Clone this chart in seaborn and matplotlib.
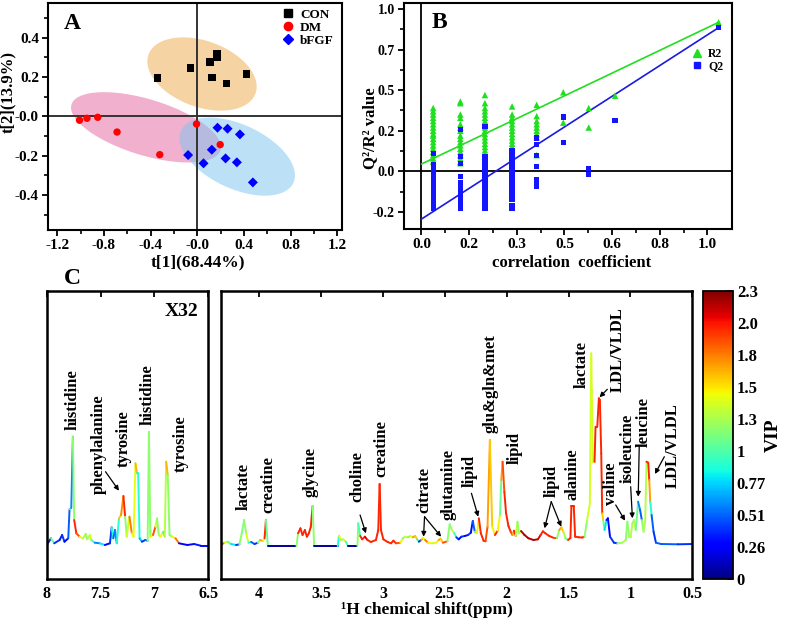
import numpy as np
import pandas as pd
import matplotlib
matplotlib.use("Agg")
import matplotlib.pyplot as plt
import seaborn as sns
from matplotlib.collections import LineCollection
from matplotlib.colors import Normalize
from matplotlib.lines import Line2D
from matplotlib.cm import ScalarMappable

# ---------------- Panel A : PLS-DA scores ----------------
con_t1 = [-0.34, -0.06, 0.11, 0.17, 0.17, 0.127, 0.25, 0.42]
con_t2 = [0.196, 0.247, 0.276, 0.32, 0.30, 0.198, 0.166, 0.215]
dm_t1 = [-1.01, -0.946, -0.854, -0.688, -0.322, -0.007, 0.196]
dm_t2 = [-0.02, -0.01, -0.005, -0.08, -0.195, -0.039, -0.144]
bfgf_t1 = [0.173, 0.259, 0.365, -0.079, 0.124, 0.053, 0.242, 0.339, 0.476]
bfgf_t2 = [-0.058, -0.063, -0.092, -0.197, -0.17, -0.239, -0.214, -0.234, -0.336]
groups = ["CON", "DM", "bFGF"]
ell_cx = [0.04, -0.44, 0.342]
ell_cy = [0.215, -0.056, -0.205]
ell_a = [0.488, 0.668, 0.531]
ell_b = [0.283, 0.24, 0.274]
ell_angle = [-20, -17, -25]

# ---------------- Panel B : permutation test ----------------
r2_x = ([0.041] * 18 + [0.136] * 17 + [0.222] * 18 + [0.317] * 15 + [0.403] * 9
        + [0.496] * 2 + [0.585] * 2 + [0.677] + [1.039])
r2_y = ([0.39, 0.37, 0.35, 0.33, 0.31, 0.29, 0.27, 0.25, 0.23, 0.22, 0.20, 0.18, 0.16, 0.14, 0.12, 0.10, 0.08, 0.06]
        + [0.43, 0.42, 0.35, 0.33, 0.29, 0.27, 0.25, 0.22, 0.20, 0.18, 0.16, 0.14, 0.12, 0.10, 0.08, 0.06, 0.05]
        + [0.47, 0.42, 0.39, 0.37, 0.35, 0.33, 0.31, 0.29, 0.27, 0.25, 0.23, 0.21, 0.19, 0.17, 0.15, 0.13, 0.11, 0.09]
        + [0.40, 0.35, 0.33, 0.31, 0.29, 0.27, 0.25, 0.23, 0.21, 0.19, 0.17, 0.15, 0.13, 0.11, 0.09]
        + [0.41, 0.34, 0.31, 0.29, 0.27, 0.25, 0.23, 0.21, 0.10]
        + [0.487, 0.30] + [0.39, 0.27] + [0.466] + [0.918])
q2_x = ([0.041] * 15 + [0.136] * 13 + [0.222] * 18 + [0.317] * 18 + [0.403] * 7
        + [0.496] * 2 + [0.585] * 2 + [0.677] + [1.039])
q2_y = ([0.109, 0.04, 0.02, 0.0, -0.02, -0.04, -0.06, -0.08, -0.10, -0.12, -0.14, -0.16, -0.18, -0.20, -0.226]
        + [0.257, 0.092, 0.05, -0.03, -0.07, -0.09, -0.11, -0.13, -0.15, -0.17, -0.19, -0.21, -0.226]
        + [0.277, 0.09, 0.07, 0.05, 0.03, 0.01, -0.01, -0.03, -0.05, -0.07, -0.09, -0.11, -0.13, -0.15, -0.17, -0.19, -0.21, -0.226]
        + [0.13, 0.11, 0.09, 0.07, 0.05, 0.03, 0.01, -0.01, -0.03, -0.05, -0.07, -0.09, -0.11, -0.13, -0.15, -0.17, -0.21, -0.226]
        + [0.205, 0.164, 0.097, 0.03, -0.05, -0.07, -0.09]
        + [0.335, 0.18] + [0.016, -0.02] + [0.312] + [0.887])
fit_x = [0.0, 1.039]
r2_fit_y = [0.045, 0.918]
q2_fit_y = [-0.294, 0.885]
b_xticks = [0.0, 0.1667, 0.3333, 0.5, 0.6667, 0.8333, 1.0]
b_xticklabels = ["0.0", "0.2", "0.3", "0.5", "0.6", "0.8", "1.0"]
b_yticks = [-0.25, 0.0, 0.25, 0.5, 0.75, 1.0]
b_yticklabels = ["-0.2", "0.0", "0.2", "0.5", "0.7", "1.0"]

# ---------------- Panel C : VIP-coloured loadings spectrum ----------------
left_ppm = [8.0, 7.96, 7.93, 7.88, 7.857, 7.835, 7.80, 7.788, 7.772, 7.757, 7.745, 7.725, 7.694, 7.663,
            7.638, 7.625, 7.60, 7.585, 7.554, 7.507, 7.46, 7.413, 7.397, 7.382, 7.366, 7.35, 7.329, 7.31,
            7.288, 7.272, 7.257, 7.232, 7.21, 7.194, 7.176, 7.163, 7.151, 7.138, 7.116, 7.085, 7.063,
            7.051, 7.038, 7.013, 6.991, 6.976, 6.96, 6.944, 6.919, 6.904, 6.891, 6.876, 6.86, 6.835,
            6.804, 6.772, 6.694, 6.632, 6.57, 6.5]
left_int = [0, 6.7, 1.7, 5, 10, 3.3, 6.7, 35.7, 37, 108.3, 25, 11.7, 8.3, 6.7,
            11, 5.7, 10, 5, 2.3, 1.7, 0, 1.7, 17.7, 6.7, 15, 1.7, 26.7, 30,
            49, 28.3, 8.3, 28.3, 11.7, 8.3, 81.7, 71.7, 71.7, 6.7, 3.3, 5, 4.3,
            113.3, 8.3, 10, 18.3, 26.7, 10, 8.3, 13.3, 8.3, 83.3, 70, 10, 8.3,
            6.7, 1.7, 0, 1, -0.7, -0.7]
left_vip = [0.35, 1.1, 0.4, 0.35, 0.4, 0.3, 0.5, 1.0, 0.6, 1.2, 2.0, 1.9, 1.5, 1.3,
            1.2, 1.3, 1.4, 1.0, 0.6, 0.8, 0.3, 0.4, 0.9, 0.5, 0.6, 0.9, 1.6, 1.75,
            2.0, 1.2, 1.4, 1.8, 1.5, 1.45, 1.65, 0.9, 0.9, 0.7, 0.4, 0.5, 1.2,
            1.2, 1.5, 1.9, 1.4, 1.2, 1.3, 1.5, 0.9, 1.3, 1.65, 1.2, 1.2, 1.5,
            1.8, 0.3, 0.3, 0.35, 0.3, 0.5]

right_ppm = [4.309, 4.282, 4.255, 4.228, 4.187, 4.16, 4.141, 4.122, 4.106, 4.087, 4.065, 4.038, 4.011,
             3.992, 3.97, 3.957, 3.946, 3.93, 3.699, 3.686, 3.667, 3.650, 3.631, 3.615, 3.599, 3.583,
             3.569, 3.556, 3.366, 3.355, 3.339, 3.32, 3.301, 3.282, 3.206, 3.2, 3.184, 3.168, 3.146,
             3.125, 3.098, 3.057, 3.038, 3.027, 3.016, 2.997, 2.962, 2.935, 2.916, 2.894, 2.859, 2.84,
             2.821, 2.8, 2.778, 2.759, 2.74, 2.724, 2.71, 2.691, 2.675, 2.659, 2.637, 2.604, 2.569,
             2.55, 2.534, 2.515, 2.48, 2.461, 2.442, 2.426, 2.407, 2.388, 2.366, 2.339, 2.312, 2.29,
             2.274, 2.258, 2.241, 2.225, 2.209, 2.187, 2.171, 2.155, 2.136, 2.117, 2.095, 2.073, 2.054,
             2.044, 2.033, 2.019, 2.005, 1.986, 1.968, 1.954, 1.941, 1.927, 1.913, 1.902, 1.884, 1.856,
             1.824, 1.783, 1.748, 1.726, 1.707, 1.688, 1.656, 1.618, 1.594, 1.575, 1.558, 1.542, 1.526,
             1.504, 1.485, 1.477, 1.458, 1.447, 1.417, 1.39, 1.371, 1.35, 1.328, 1.317, 1.303, 1.29,
             1.282, 1.268, 1.255, 1.247, 1.236, 1.228, 1.22, 1.209, 1.193, 1.182, 1.165, 1.133, 1.106,
             1.065, 1.038, 1.025, 1.011, 0.998, 0.984, 0.97, 0.957, 0.938, 0.922, 0.908, 0.894, 0.881,
             0.87, 0.856, 0.848, 0.84, 0.829, 0.813, 0.794, 0.753, 0.618, 0.5]
right_int = [0, 2.3, 3.3, 1, 0, 0.7, 11.7, 25, 11.7, 2.3, 3, 1, 2.3,
             5, 4, 6.7, 25, -1, -1, 11.7, 16.7, 10, 15, 8.3, 11.7, 18.3,
             39, -1, -1, 9.3, 5, 5.7, 3.3, -1, -1, 21.7, 9, 5.7, 8.3,
             5, 3, 5, 15, 61, 15, 5.7, 3, 1.7, 4.3, 1.7, 2.3, 6.7,
             8.3, 7.7, 9, 7.7, 9, 5.7, 3.3, 5, 6.7, 5, 2.3, 1.7, 2.3,
             5, 6.3, 2.3, 3.7, 20.7, 15, 12.3, 7.7, 5.7, 8.3, 9, 10, 12.3,
             24, 13.3, 11.7, 26.7, 11.7, 4.3, 3.7, 18.3, 105, 18.3, 10, 14.3, 30,
             65, 83.3, 53, 31.7, 19, 13.3, 10, 14.3, 9, 23.3, 11.7, 14, 10,
             6.7, 5, 5.7, 10, 13.7, 11.7, 9, 7, 7, 15, 17.7, 13.3, 7,
             5, 7, 39, 39, 8.3, 7.7, 7.5, 8.3, 25, 41.7, 191.7, 83.3, 83.3,
             118.3, 118.3, 146.7, 145, 91.7, 31.7, 25, 15, 25, 26.7, 8.3, 2.3, 1.7,
             2.3, 5, 23.3, 8.3, 8.3, 21.7, 25, 15, 43.3, 35, 25, 13.3, 23.3,
             83.3, 82.3, 65, 43.3, 30, 13.3, 2.3, 1, 0.7, 1]
right_vip = [1.9, 1.4, 1.1, 0.8, 0.4, 1.2, 1.15, 1.2, 1.4, 0.9, 0.5, 0.4, 1.2,
             1.7, 1.5, 2.0, 1.1, 0.05, 1.2, 2.0, 2.0, 2.0, 2.0, 2.0, 2.0, 2.0,
             1.2, 0.05, 0.9, 1.5, 1.2, 1.4, 1.0, 0.05, 1.2, 1.0, 2.0, 2.0, 2.1,
             2.0, 2.0, 2.0, 2.0, 2.0, 2.0, 2.0, 2.0, 2.0, 2.0, 1.9, 1.5, 1.2,
             1.4, 1.15, 1.45, 1.7, 1.6, 0.9, 0.4, 1.7, 1.5, 1.8, 1.5, 1.4, 1.5,
             1.7, 1.6, 1.9, 1.2, 1.2, 1.4, 1.0, 0.4, 0.3, 0.4, 0.3, 0.4, 0.3,
             0.5, 1.2, 1.5, 2.0, 2.0, 2.0, 1.9, 1.7, 1.6, 1.5, 2.0, 1.5, 1.1,
             1.7, 1.9, 2.0, 2.0, 2.0, 1.9, 1.7, 2.0, 1.3, 1.2, 1.3, 2.2, 2.2,
             2.2, 2.2, 2.1, 2.0, 2.0, 2.0, 2.0, 1.9, 1.2, 1.7, 1.6, 1.3, 1.1,
             2.0, 2.0, 2.0, 2.0, 2.0, 2.0, 2.0, 1.2, 1.4, 1.4, 1.4, 1.4, 2.0,
             2.0, 2.0, 2.0, 2.0, 2.0, 1.6, 1.1, 0.8, 0.3, 0.3, 0.4, 0.4, 1.2,
             1.3, 1.2, 1.2, 1.3, 1.3, 1.2, 1.3, 1.1, 0.6, 0.5, 1.2, 1.3, 1.3,
             2.0, 2.0, 1.7, 0.9, 0.5, 0.4, 0.5, 0.5, 0.4, 0.5]

left_labels = ["histidine", "phenylalanine", "tyrosine", "histidine", "tyrosine"]
left_label_ppm = [7.756, 7.516, 7.282, 7.063, 6.76]
left_label_base = [115, 51, 78, 120, 73]
right_labels = ["lactate", "creatine", "glycine", "choline", "creatine", "citrate", "glutamine", "lipid",
                "glu&gln&met", "lipid", "lipid", "alanine", "lactate", "LDL/VLDL", "valine",
                "isoleucine", "leucine", "LDL/VLDL"]
right_label_ppm = [4.128, 3.93, 3.585, 3.206, 3.016, 2.664, 2.469, 2.298,
                   2.128, 1.933, 1.64, 1.471, 1.396, 1.106, 1.16, 1.019, 0.889, 0.659]
right_label_base = [35, 32, 48, 43, 68, 32, 25, 58, 112, 81, 48, 45, 157, 153, 40, 62, 98, 57]
left_arrows = [((7.454, 73.3), (7.329, 54.3))]
right_arrows = [((3.185, 30), (3.138, 11.7)), ((2.664, 28.3), (2.672, 8.3)), ((2.664, 28.3), (2.53, 8.3)),
                ((2.285, 51.7), (2.23, 28.3)), ((1.64, 43.3), (1.694, 16.7)), ((1.64, 43.3), (1.559, 18.3)),
                ((1.187, 155.7), (1.25, 147.7)), ((1.119, 40), (1.043, 24.3)), ((0.998, 58.3), (0.984, 26.7)),
                ((0.929, 98.3), (0.937, 48.3)), ((0.726, 88.3), (0.802, 71))]
vip_ticks = [0, 0.2556, 0.5111, 0.7667, 1.0222, 1.2778, 1.5333, 1.7889, 2.0444, 2.3]
vip_ticklabels = ["0", "0.26", "0.51", "0.77", "1", "1.3", "1.5", "1.8", "2.0", "2.3"]

# ---------------- style ----------------
sns.set_style("ticks")
plt.rcParams["font.family"] = ["Liberation Serif", "DejaVu Serif"]
plt.rcParams["font.weight"] = "bold"
plt.rcParams["axes.labelweight"] = "bold"
plt.rcParams["axes.edgecolor"] = "black"
plt.rcParams["axes.linewidth"] = 1.5
plt.rcParams["xtick.color"] = "black"
plt.rcParams["ytick.color"] = "black"
plt.rcParams["text.color"] = "black"
plt.rcParams["axes.labelcolor"] = "black"

W, H = 787, 626
fig = plt.figure(figsize=(W / 100, H / 100), dpi=100)
fig.patch.set_facecolor("white")


def ax_px(l, t, r, b):
    return fig.add_axes([l / W, 1 - b / H, (r - l) / W, (b - t) / H])


axA = ax_px(48, 3, 342, 230)
axB = ax_px(404, 3, 732, 229)
axL = ax_px(46.7, 290.7, 208.3, 579)
axR = ax_px(221, 290.7, 692.3, 579)
cax = ax_px(702.7, 290.7, 732.7, 579.3)

# ---------------- Panel A ----------------
xlA, ylA = (-1.28, 1.24), (-0.578, 0.576)
axA.set_xlim(*xlA)
axA.set_ylim(*ylA)
bb = axA.get_position()
ratio = (bb.height * H / (ylA[1] - ylA[0])) / (bb.width * W / (xlA[1] - xlA[0]))
ell_colors = ["#eea848", "#e4629e", "#7ac4ee"]
tt = np.linspace(0, 2 * np.pi, 240)
for cx, cy, a, b, ang, col in zip(ell_cx, ell_cy, ell_a, ell_b, ell_angle, ell_colors):
    th = np.deg2rad(ang)
    X = a * np.cos(tt) * np.cos(th) - b * np.sin(tt) * np.sin(th)
    Y = a * np.cos(tt) * np.sin(th) + b * np.sin(tt) * np.cos(th)
    axA.fill(cx + X, cy + Y / ratio, color=col, alpha=0.5, lw=0, zorder=0.5)
axA.axhline(0, color="#333333", lw=1.4, zorder=1)
axA.axvline(0, color="#333333", lw=1.4, zorder=1)
dfA = pd.DataFrame({"t1": con_t1 + dm_t1 + bfgf_t1, "t2": con_t2 + dm_t2 + bfgf_t2,
                    "group": ["CON"] * len(con_t1) + ["DM"] * len(dm_t1) + ["bFGF"] * len(bfgf_t1)})
mk = {"CON": "s", "DM": "o", "bFGF": "D"}
pal = {"CON": "black", "DM": "#ff0000", "bFGF": "#0000ff"}
sz = {"CON": 30, "DM": 28, "bFGF": 26}
for g in groups:
    sub = dfA[dfA.group == g]
    sns.scatterplot(data=sub, x="t1", y="t2", marker=mk[g], color=pal[g], s=sz[g],
                    edgecolor="none", ax=axA, zorder=3, legend=False)
handles = [Line2D([], [], marker=mk[g], color=pal[g], ls="none", markersize=6 if g != "bFGF" else 5.5)
           for g in groups]
axA.legend(handles, groups, loc="upper left", bbox_to_anchor=(0.795, 0.975), frameon=False,
           fontsize=9.5, handlelength=1.0, handletextpad=0.4, labelspacing=0.05, borderpad=0,
           borderaxespad=0)
axA.set_xticks([-1.2, -0.8, -0.4, 0, 0.4, 0.8, 1.2])
axA.set_xticklabels(["-1.2", "-0.8", "-0.4", "-0.0", "0.4", "0.8", "1.2"])
axA.set_xticks([-1.0, -0.6, -0.2, 0.2, 0.6, 1.0], minor=True)
axA.set_yticks([-0.4, -0.2, 0, 0.2, 0.4])
axA.set_yticklabels(["-0.4", "-0.2", "-0.0", "0.2", "0.4"])
axA.set_yticks([-0.5, -0.3, -0.1, 0.1, 0.3, 0.5], minor=True)
axA.tick_params(which="major", direction="out", length=4.5, width=1.3, labelsize=11, pad=2)
axA.tick_params(which="minor", direction="out", length=3, width=1.2)
axA.set_xlabel("t[1](68.44%)", fontsize=12.5)
axA.set_ylabel("t[2](13.9%)", fontsize=12)
axA.xaxis.set_label_coords(0.51, -0.108)
axA.yaxis.set_label_coords(-0.11, 0.61)
axA.text(0.084, 0.91, "A", transform=axA.transAxes, fontsize=17, fontweight="bold",
         ha="center", va="center")
for s in axA.spines.values():
    s.set_linewidth(1.5)

# ---------------- Panel B ----------------
axB.set_xlim(-0.061, 1.086)
axB.set_ylim(-0.355, 1.037)
axB.axhline(0, color="black", lw=1.3, zorder=1)
axB.axvline(0, color="black", lw=1.3, zorder=1)
sns.lineplot(x=fit_x, y=r2_fit_y, color="#22dd22", lw=1.2, ax=axB, zorder=2)
sns.lineplot(x=fit_x, y=q2_fit_y, color="#1a1adf", lw=1.2, ax=axB, zorder=2)
sns.scatterplot(x=r2_x, y=r2_y, marker="^", color="#1fe01f", s=22, edgecolor="none", ax=axB,
                zorder=3, legend=False)
sns.scatterplot(x=q2_x, y=q2_y, marker="s", color="#1414ff", s=14, edgecolor="none", ax=axB,
                zorder=4, legend=False)
hB = [Line2D([], [], marker="^", color="#1fe01f", ls="none", markersize=5.5),
      Line2D([], [], marker="s", color="#1414ff", ls="none", markersize=4.5)]
axB.legend(hB, ["R2", "Q2"], loc="upper left", bbox_to_anchor=(0.88, 0.80), frameon=False,
           fontsize=8.5, handlelength=0.8, handletextpad=0.5, labelspacing=0.0, borderpad=0,
           borderaxespad=0)
axB.set_xticks(b_xticks)
axB.set_xticklabels(b_xticklabels)
axB.set_xticks([0.0833, 0.25, 0.4167, 0.5833, 0.75, 0.9167], minor=True)
axB.set_yticks(b_yticks)
axB.set_yticklabels(b_yticklabels)
axB.set_yticks([-0.125, 0.125, 0.375, 0.625, 0.875], minor=True)
axB.tick_params(which="major", direction="out", length=4.5, width=1.3, labelsize=11, pad=2)
axB.tick_params(axis="y", which="major", labelsize=10)
axB.tick_params(which="minor", direction="out", length=3, width=1.2)
axB.set_xlabel("correlation  coefficient", fontsize=12)
axB.set_ylabel("Q²/R² value", fontsize=12)
axB.xaxis.set_label_coords(0.512, -0.115)
axB.yaxis.set_label_coords(-0.08, 0.447)
axB.text(0.108, 0.913, "B", transform=axB.transAxes, fontsize=17, fontweight="bold",
         ha="center", va="center")
for s in axB.spines.values():
    s.set_linewidth(1.5)

# ---------------- Panel C ----------------
norm = Normalize(0, 2.3)
cmap = plt.get_cmap("jet")


def draw_spec(ax, ppm, inten, vip):
    pts = np.column_stack([ppm, inten])
    segs = np.stack([pts[:-1], pts[1:]], axis=1)
    lc = LineCollection(segs, cmap=cmap, norm=norm, linewidths=1.4, capstyle="round",
                        joinstyle="round")
    lc.set_array(np.asarray(vip[:-1], dtype=float))
    ax.add_collection(lc)


draw_spec(axL, left_ppm, left_int, left_vip)
draw_spec(axR, right_ppm, right_int, right_vip)
for ax, xl, xt, xtl in [(axL, (8, 6.5), [8, 7.5, 7, 6.5], ["8", "7.5", "7", "6.5"]),
                        (axR, (4.309, 0.5), [4, 3.5, 3, 2.5, 2, 1.5, 1, 0.5],
                         ["4", "3.5", "3", "2.5", "2", "1.5", "1", "0.5"])]:
    ax.set_xlim(*xl)
    ax.set_ylim(-34, 254.3)
    ax.set_yticks([])
    ax.set_xticks(xt)
    ax.set_xticklabels(xtl)
    ax.tick_params(axis="x", bottom=False, top=True, direction="in", length=4, width=1.3,
                   labelbottom=True, labeltop=False, labelsize=11.5, pad=5)
    for s in ax.spines.values():
        s.set_linewidth(1.8)

for txt, x, yb in zip(left_labels, left_label_ppm, left_label_base):
    axL.text(x, yb, txt, rotation=90, ha="center", va="bottom", fontsize=12, fontweight="bold")
for txt, x, yb in zip(right_labels, right_label_ppm, right_label_base):
    axR.text(x, yb, txt, rotation=90, ha="center", va="bottom", fontsize=12, fontweight="bold")
ap = dict(arrowstyle="-|>", color="black", lw=0.9, mutation_scale=7, shrinkA=0, shrinkB=0)
for (s0, s1) in left_arrows:
    axL.annotate("", xy=s1, xytext=s0, arrowprops=ap)
for (s0, s1) in right_arrows:
    axR.annotate("", xy=s1, xytext=s0, arrowprops=ap)
axL.text(0.835, 0.927, "X32", transform=axL.transAxes, fontsize=14, fontweight="bold",
         ha="center", va="center")
fig.text(72 / W, 1 - 278 / H, "C", fontsize=17, fontweight="bold", ha="center", va="center")
fig.text(427 / W, 1 - 610 / H, "¹H chemical shift(ppm)", fontsize=12.5, fontweight="bold",
         ha="center", va="center")

sm = ScalarMappable(norm=norm, cmap=cmap)
cb = fig.colorbar(sm, cax=cax)
cb.set_ticks(vip_ticks)
cb.set_ticklabels(vip_ticklabels)
cb.outline.set_linewidth(1.3)
cax.tick_params(direction="in", length=4, width=1.2, labelsize=12, pad=3)
cb.set_label("VIP", fontsize=14, fontweight="bold", labelpad=-1)

fig.savefig("out.png", dpi=100, facecolor="white")
